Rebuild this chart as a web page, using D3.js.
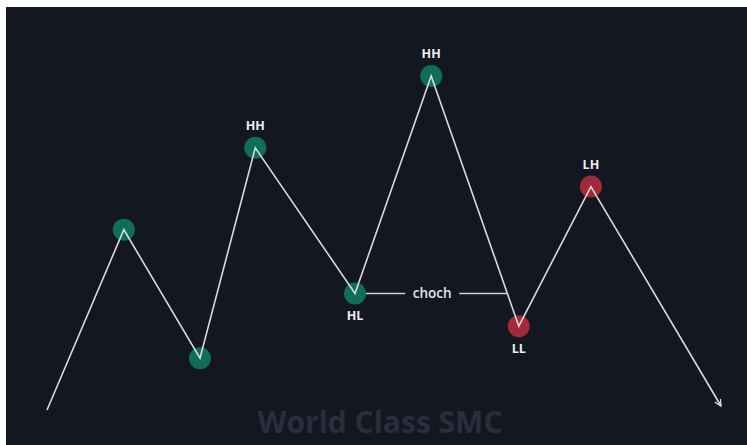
<!DOCTYPE html>
<html>
<head>
<meta charset="utf-8">
<script src="https://cdn.jsdelivr.net/npm/d3@7"></script>
<style>
  body { margin: 0; background: #ffffff; }
  svg { display: block; }
</style>
</head>
<body>
<div id="chart"></div>
<script>
// swing points of the market structure
var times  = [0, 11.4, 22.7, 30.9, 45.7, 57.0, 70.0, 80.7, 100];
var prices = [0, 54.0, 15.5, 78.5, 34.9, 100, 25.1, 66.9, 1.2];
var labels = ["", "", "", "HH", "HL", "HH", "LL", "LH", ""];
var bias   = ["", "bull", "bull", "bull", "bull", "bull", "bear", "bear", ""];
var chochFrom = 4, chochLeg = [5, 6];
var watermark = "World Class SMC";

var W = 747, H = 445;
var svg = d3.select("#chart").append("svg")
    .attr("width", W)
    .attr("height", H);

// white frame round the screenshot
svg.append("rect")
    .attr("x", 6).attr("y", 7)
    .attr("width", W - 6).attr("height", H - 7)
    .attr("fill", "#131722");

var x = d3.scaleLinear().domain([0, 100]).range([47, 721]);
var y = d3.scaleLinear().domain([0, 100]).range([410, 76]);

// watermark
svg.append("text")
    .attr("x", 380).attr("y", 433)
    .attr("text-anchor", "middle")
    .style("font-family", "'Open Sans', sans-serif")
    .style("font-weight", 700)
    .style("font-size", "30px")
    .style("fill", "#2a2e3b")
    .text(watermark);

var data = times.map(function(t, i) {
  return {t: t, p: prices[i], label: labels[i], bias: bias[i]};
});

svg.append("defs").append("marker")
    .attr("id", "arrow")
    .attr("viewBox", "0 0 10 10")
    .attr("refX", 9).attr("refY", 5)
    .attr("markerWidth", 8).attr("markerHeight", 8)
    .attr("markerUnits", "userSpaceOnUse")
    .attr("orient", "auto")
  .append("path")
    .attr("d", "M1,1 L9,5 L1,9")
    .attr("fill", "none")
    .attr("stroke", "#d9d9de")
    .attr("stroke-width", 1.6);

// choch line: from HL level to where the down leg crosses it
var a = data[chochLeg[0]], b = data[chochLeg[1]];
var lvl = data[chochFrom].p;
var tCross = a.t + (b.t - a.t) * (a.p - lvl) / (a.p - b.p);
var x0 = x(data[chochFrom].t), x1 = x(tCross), xm = x(data[chochFrom].t + (tCross - data[chochFrom].t) / 2) + 1;
var gap = 27;
svg.append("line")
    .attr("x1", x0).attr("x2", xm - gap)
    .attr("y1", y(lvl)).attr("y2", y(lvl))
    .attr("stroke", "#cfd0d4").attr("stroke-width", 1.4);
svg.append("line")
    .attr("x1", xm + gap).attr("x2", x1)
    .attr("y1", y(lvl)).attr("y2", y(lvl))
    .attr("stroke", "#cfd0d4").attr("stroke-width", 1.4);
svg.append("text")
    .attr("x", xm).attr("y", y(lvl) + 5)
    .attr("text-anchor", "middle")
    .style("font-family", "'Open Sans', sans-serif")
    .style("font-weight", 600)
    .style("font-size", "13.5px")
    .style("fill", "#e4e4e8")
    .text("choch");

// swing points
var dots = data.filter(function(d) { return d.bias; });
svg.selectAll("circle.swing")
    .data(dots)
    .enter().append("circle")
    .attr("class", "swing")
    .attr("cx", function(d) { return x(d.t); })
    .attr("cy", function(d) { return y(d.p); })
    .attr("r", 11)
    .attr("fill", function(d) { return d.bias == "bull" ? "#0f6e5a" : "#a22a38"; });

// price path
var line = d3.line()
    .x(function(d) { return x(d.t); })
    .y(function(d) { return y(d.p); });
svg.append("path")
    .datum(data)
    .attr("d", line)
    .attr("fill", "none")
    .attr("stroke", "#d9d9de")
    .attr("stroke-width", 1.6)
    .attr("stroke-linejoin", "miter")
    .attr("marker-end", "url(#arrow)");

// structure labels
svg.selectAll("text.lbl")
    .data(data.filter(function(d) { return d.label; }))
    .enter().append("text")
    .attr("class", "lbl")
    .attr("x", function(d) { return x(d.t); })
    .attr("y", function(d) {
      var low = d.label == "HL" || d.label == "LL";
      return y(d.p) + (low ? 27 : -18);
    })
    .attr("text-anchor", "middle")
    .style("font-family", "'Open Sans', sans-serif")
    .style("font-weight", 700)
    .style("font-size", "12.5px")
    .style("fill", "#eeeef0")
    .text(function(d) { return d.label; });
</script>
</body>
</html>
